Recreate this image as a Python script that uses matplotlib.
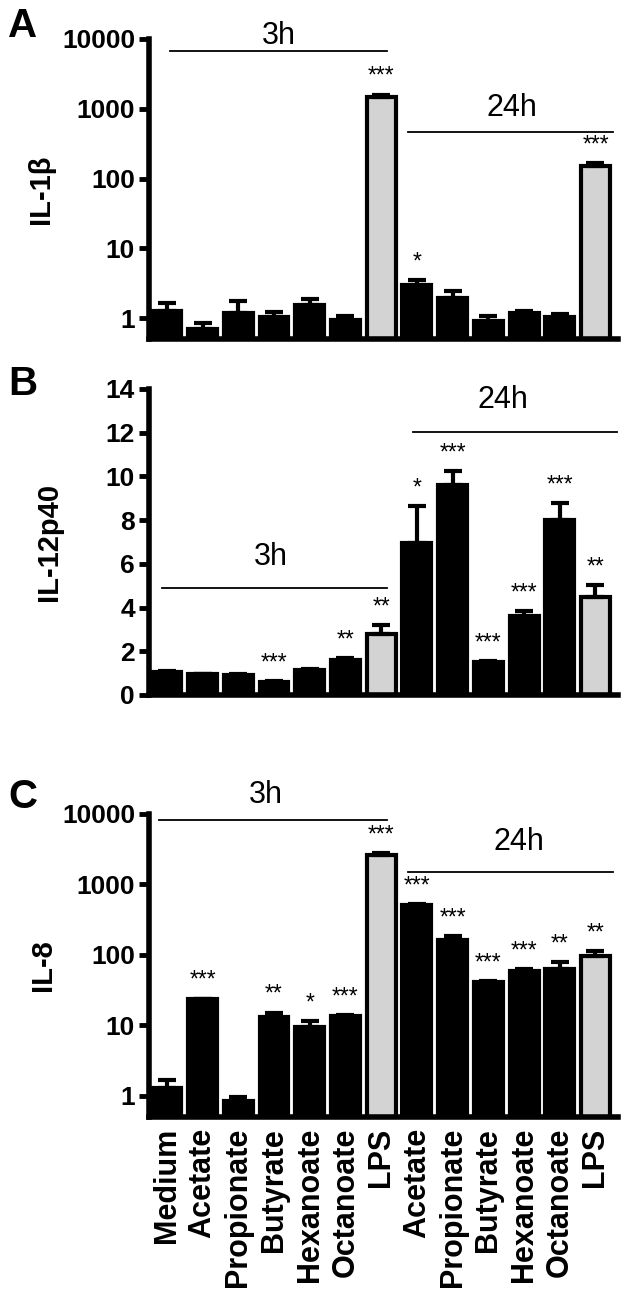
import matplotlib
matplotlib.use("Agg")
import matplotlib.pyplot as plt
from matplotlib.ticker import FixedLocator, FixedFormatter, NullLocator
import numpy as np

plt.rcParams['font.family'] = ['Liberation Sans', 'DejaVu Sans']

# ---------------- data ----------------
categories = ["Medium", "Acetate", "Propionate", "Butyrate", "Hexanoate", "Octanoate", "LPS",
              "Acetate", "Propionate", "Butyrate", "Hexanoate", "Octanoate", "LPS"]
is_lps = [False, False, False, False, False, False, True,
          False, False, False, False, False, True]

# Panel A: IL-1beta (log scale)
il1b_mean = [1.28, 0.70, 1.18, 1.02, 1.52, 0.95, 1480, 3.0, 1.95, 0.90, 1.18, 1.03, 150]
il1b_upper = [1.62, 0.85, 1.75, 1.20, 1.85, 1.08, 1600, 3.45, 2.45, 1.07, 1.26, 1.14, 168]
il1b_stars = ["", "", "", "", "", "", "***", "*", "", "", "", "", "***"]

# Panel B: IL-12p40 (linear)
il12_mean = [1.06, 0.94, 0.92, 0.60, 1.15, 1.62, 2.80, 6.95, 9.60, 1.50, 3.60, 8.00, 4.50]
il12_upper = [1.10, 0.98, 0.96, 0.63, 1.21, 1.68, 3.20, 8.65, 10.25, 1.54, 3.85, 8.80, 5.05]
il12_stars = ["", "", "", "***", "", "**", "**", "*", "***", "***", "***", "***", "**"]

# Panel C: IL-8 (log scale)
il8_mean = [1.31, 23.3, 0.85, 13.1, 9.5, 13.4, 2600, 505, 165, 41, 58.7, 64, 96]
il8_upper = [1.68, 24.0, 0.97, 15.2, 11.6, 13.8, 2770, 530, 184, 42, 63, 78, 115]
il8_stars = ["", "***", "", "**", "*", "***", "***", "***", "***", "***", "***", "**", "**"]

groups = [("3h", 0, 6), ("24h", 7, 12)]

# ---------------- figure ----------------
W, H = 630, 1301
fig = plt.figure(figsize=(W / 100, H / 100), dpi=100)

left = 149 / W
right_px = 618
width = (right_px - 149) / W

def fy(px):
    return 1 - px / H

axA = fig.add_axes([left, fy(339), width, (339 - 39) / H])
axB = fig.add_axes([left, fy(695), width, (695 - 389) / H])
axC = fig.add_axes([left, fy(1117), width, (1117 - 814) / H])

x = np.arange(len(categories))
bar_w = 0.81
spine_lw = 4.0


def draw_panel(ax, mean, upper, stars, log, ylabel):
    colors = ["#d3d3d3" if l else "black" for l in is_lps]
    mean = np.asarray(mean)
    upper = np.asarray(upper)
    ax.bar(x, mean, width=bar_w, color=colors, edgecolor="black", linewidth=3.0, zorder=2)
    ax.errorbar(x, mean, yerr=[np.zeros_like(mean), upper - mean], fmt="none",
                ecolor="black", elinewidth=3.0, capsize=6.5, capthick=3.0, zorder=3)
    for xi, u, s in zip(x, upper, stars):
        if s:
            ax.annotate(s, xy=(xi, u), xytext=(0, 13), textcoords="offset points",
                        ha="center", va="center", fontsize=16.5, annotation_clip=False)
    if log:
        ax.set_yscale("log")
        ax.set_ylim(0.5, 10000)
        ticks = [1, 10, 100, 1000, 10000]
        ax.yaxis.set_major_locator(FixedLocator(ticks))
        ax.yaxis.set_major_formatter(FixedFormatter([str(t) for t in ticks]))
        ax.yaxis.set_minor_locator(NullLocator())
    else:
        ax.set_ylim(0, 14)
        ax.set_yticks([0, 2, 4, 6, 8, 10, 12, 14])
    ax.set_xlim(-0.5, 12.63)
    for sp in ["top", "right"]:
        ax.spines[sp].set_visible(False)
    for sp in ["left", "bottom"]:
        ax.spines[sp].set_linewidth(spine_lw)
    ax.tick_params(axis="y", direction="out", length=7, width=3.5, labelsize=19, pad=3)
    for lab in ax.get_yticklabels():
        lab.set_fontweight("bold")
    ax.set_ylabel(ylabel, fontsize=21, fontweight="bold")


draw_panel(axA, il1b_mean, il1b_upper, il1b_stars, True, "IL-1β")
draw_panel(axB, il12_mean, il12_upper, il12_stars, False, "IL-12p40")
draw_panel(axC, il8_mean, il8_upper, il8_stars, True, "IL-8")

axA.yaxis.set_label_coords(-0.2, 0.5)
axB.yaxis.set_label_coords(-0.183, 0.5)
axC.yaxis.set_label_coords(-0.197, 0.5)

# x tick labels only on C
for ax in (axA, axB):
    ax.set_xticks([])
axC.set_xticks(x)
axC.set_xticklabels(categories, rotation=90, fontsize=22, fontweight="bold")
axC.tick_params(axis="x", length=0, pad=8)

# group annotations: (line y, text y, line start offset, line end offset, text x)
group_style = {
    axA: {"3h": (6670, 11200, 0.08, 0.16, 3.14), "24h": (464, 1030, -0.24, 0.5, 9.67)},
    axB: {"3h": (4.9, 6.3, -0.15, 0.16, 2.91), "24h": (12.05, 13.5, -0.1, 0.6, 9.42)},
    axC: {"3h": (8200, 18600, -0.23, 0.16, 2.77), "24h": (1520, 4000, -0.24, 0.5, 9.87)},
}
for ax, st in group_style.items():
    for name, i0, i1 in groups:
        ly, ty, o0, o1, tx = st[name]
        ax.plot([x[i0] + o0, x[i1] + o1], [ly, ly], color="black", lw=1.3,
                clip_on=False, zorder=4)
        ax.text(tx, ty, name, ha="center", va="center", fontsize=22, clip_on=False)

# panel letters
for letter, ypx in [("A", 26), ("B", 384), ("C", 797)]:
    fig.text(8 / W, fy(ypx), letter, fontsize=29, fontweight="bold", ha="left", va="center")

fig.savefig("out.png", dpi=100)
